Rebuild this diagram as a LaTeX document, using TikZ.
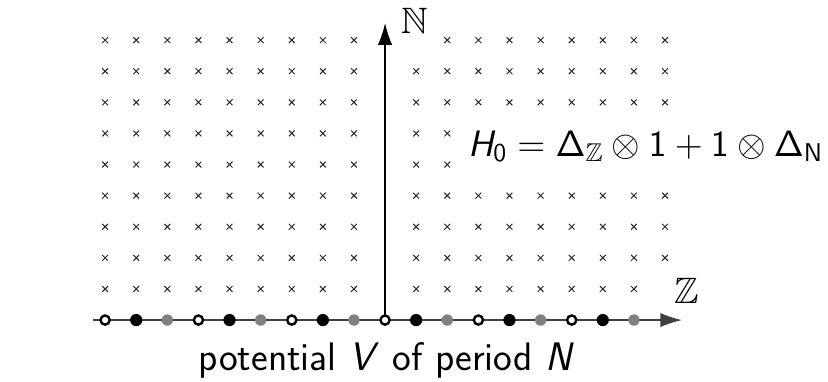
\RequirePackage{fix-cm}
\documentclass[tikz,border=0pt]{standalone}
\usepackage{amsmath,amssymb}
\usepackage{tikz}
\usetikzlibrary{arrows.meta,shapes.misc}
\DeclareMathAlphabet{\mathsfsl}{OT1}{cmss}{m}{sl}
\tikzset{
  xmark/.style={cross out,draw=black!85,line width=0.45pt,minimum size=2.2pt,inner sep=0pt},
  ax/.style={-{Latex[length=3.5mm,width=2.3mm]},line width=0.7pt},
  opendot/.style={circle,draw=black,line width=1.1pt,fill=white,minimum size=4.2pt,inner sep=0pt},
  fulldot/.style={circle,fill=black,minimum size=5.6pt,inner sep=0pt},
  greydot/.style={circle,fill=gray,minimum size=5.2pt,inner sep=0pt},
  lbl/.style={fill=white,font=\fontsize{16.8}{20}\selectfont}
}

\begin{document}
\begin{tikzpicture}[x=0.5cm,y=0.5cm]
\useasboundingbox (-12.38,-1.96) rectangle (14.24,10.29);
% lattice points
\foreach \i in {-9,...,-1,1,2,...,9}
  \foreach \j in {1,...,9}
    \node[xmark] (p\i-\j) at (\i,\j) {};
% labels
\node[lbl,anchor=base west] (ham) at (2.42,5.27)
  {$\mathsfsl{H}_{\mathsf{0}}=\mathsf{\Delta}_{\mathbb{Z}}\otimes\mathsf{1}+\mathsf{1}\otimes\mathsf{\Delta}_{\mathsf{N}}$};
\node[lbl,inner ysep=8pt] (nlab) at (0.96,9.62) {$\mathbb{N}$};
\node[lbl,inner sep=7pt] (zlab) at (9.71,0.95) {$\mathbb{Z}$};
\node[font=\fontsize{18.2}{21}\selectfont\sffamily,anchor=base] (pot) at (0.06,-1.61)
  {potential $\mathsfsl{V}$ of period $\mathsfsl{N}$};
% axes
\coordinate (O) at (0,0);
\coordinate (zend) at (-9.4,0);
\coordinate (ztip) at (9.55,0);
\coordinate (ntip) at (0,9.55);
\draw[ax,black!75] (zend) -- (ztip);
\draw[ax] (O) -- (ntip);
% sites of the potential
\foreach \k in {-9,...,8}{
  \pgfmathtruncatemacro\r{mod(\k+9,3)}
  \ifcase\r
    \node[opendot] (v\k) at (\k,0) {};
  \or
    \node[fulldot] (v\k) at (\k,0) {};
  \or
    \node[greydot] (v\k) at (\k,0) {};
  \fi
}
\end{tikzpicture}
\end{document}
